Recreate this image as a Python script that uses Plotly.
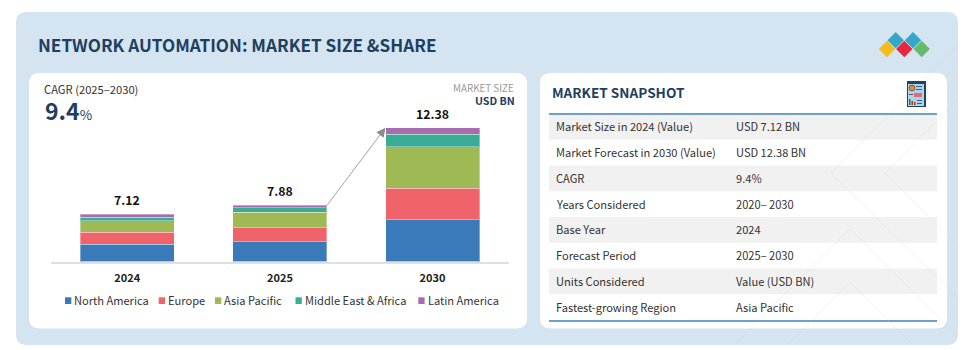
import plotly.graph_objects as go

W, H = 969, 350
FONT = "Noto Sans CJK KR"
NAVY = "#1e3f60"

years = ["2024", "2025", "2030"]
totals = [7.12, 7.88, 12.38]
# Segment sizes as drawn in the picture (the bars are not to scale with the totals)
north_america = [1.58, 1.82, 3.85]
europe = [1.12, 1.30, 2.95]
asia_pacific = [1.08, 1.43, 3.84]
middle_east_africa = [0.34, 0.43, 1.15]
latin_america = [0.25, 0.25, 0.59]

series_names = ["North America", "Europe", "Asia Pacific", "Middle East & Africa", "Latin America"]
series_colors = ["#3a7ab8", "#f0636b", "#9fba54", "#3aab95", "#a66cae"]
legend_x = [65, 158.7, 215, 295.5, 418.3]

snapshot_labels = ["Market Size in 2024 (Value)", "Market Forecast in 2030 (Value)", "CAGR", "Years Considered",
                   "Base Year", "Forecast Period", "Units Considered", "Fastest-growing Region"]
snapshot_values = ["USD 7.12 BN", "USD 12.38 BN", "9.4%", "2020– 2030", "2024", "2025– 2030", "Value (USD BN)", "Asia Pacific"]


def px(x):
    return x / W


def py(y):
    return 1 - y / H


def round_rect(x0, y0, x1, y1, r, color):
    p0x, p1x, p0y, p1y = px(x0), px(x1), py(y0), py(y1)
    rx, ry = r / W, r / H
    path = (f"M {p0x+rx} {p0y} L {p1x-rx} {p0y} Q {p1x} {p0y} {p1x} {p0y-ry} L {p1x} {p1y+ry} "
            f"Q {p1x} {p1y} {p1x-rx} {p1y} L {p0x+rx} {p1y} Q {p0x} {p1y} {p0x} {p1y+ry} "
            f"L {p0x} {p0y-ry} Q {p0x} {p0y} {p0x+rx} {p0y} Z")
    return dict(type="path", xref="paper", yref="paper", path=path, fillcolor=color, line_width=0, layer="below")


def rect(x0, y0, x1, y1, color, layer="below"):
    return dict(type="rect", xref="paper", yref="paper", x0=px(x0), x1=px(x1), y0=py(y0), y1=py(y1),
                fillcolor=color, line_width=0, layer=layer)


def seg(x0, y0, x1, y1, color, width=1, layer="below"):
    return dict(type="line", xref="paper", yref="paper", x0=px(x0), x1=px(x1), y0=py(y0), y1=py(y1),
                line=dict(color=color, width=width), layer=layer)


def diamond(cx, cy, r, color):
    path = f"M {px(cx-r)} {py(cy)} L {px(cx)} {py(cy-r)} L {px(cx+r)} {py(cy)} L {px(cx)} {py(cy+r)} Z"
    return dict(type="path", xref="paper", yref="paper", path=path, fillcolor=color, line_width=0, layer="below")


def label(x, y, text, size=12, color="#333333", anchor="left", weight=None):
    f = dict(family=FONT, size=size, color=color)
    if weight:
        f["weight"] = weight
    return dict(xref="paper", yref="paper", x=px(x), y=py(y), text=text, showarrow=False,
                xanchor=anchor, yanchor="middle", font=f, borderpad=0, borderwidth=0)


fig = go.Figure()
for name, vals, color in zip(series_names, [north_america, europe, asia_pacific, middle_east_africa, latin_america], series_colors):
    fig.add_trace(go.Bar(name=name, x=years, y=vals, marker=dict(color=color, line=dict(color="rgba(255,255,255,0.35)", width=1)),
                         showlegend=False, hoverinfo="x+y+name"))

shapes = [round_rect(16, 12, 958, 345, 11, "#d5e4f1"),
          round_rect(29, 73, 527, 328.5, 11, "#ffffff"),
          round_rect(540, 73, 947, 328.5, 11, "#ffffff")]

# snapshot rows
ROW = 25.75
for i in range(len(snapshot_labels)):
    if i % 2 == 0:
        shapes.append(rect(549, 114 + i * ROW, 937, 114 + (i + 1) * ROW, "#f1f1f1"))
shapes.append(rect(549, 113, 937, 115, "#6f9fcd"))
shapes.append(rect(549, 320, 937, 322, "#6f9fcd"))

# faint background lattice
LAT = "rgba(190,200,210,0.22)"
for a in [(958, 45, 831, 173), (831, 173, 958, 298), (958, 99, 885, 173), (885, 173, 958, 247),
          (850, 229, 958, 337), (850, 229, 734, 345), (850, 282, 787, 345), (850, 282, 913, 345)]:
    shapes.append(seg(*a, LAT, 1))

# logo
for cx, cy, c in [(895.7, 40.3, "#36a6c9"), (913, 40.3, "#36a6c9"), (887, 49, "#f4bd1d"), (904.3, 49, "#e8273f"), (921.7, 49, "#66bb6a")]:
    shapes.append(diamond(cx, cy, 8.2, c))

# snapshot icon
shapes += [rect(907, 81, 926, 107, "#1f4566"), rect(908, 84, 924, 106, "#a9d6ee"),
           dict(type="circle", xref="paper", yref="paper", x0=px(909), x1=px(915), y0=py(85), y1=py(91),
                fillcolor="#e0873a", line=dict(color="#3a3a3a", width=0.6), layer="below"),
           rect(916, 86, 922, 87, "#557"), rect(916, 89, 922, 90, "#557"),
           rect(909, 94, 913, 95, "#557"), rect(914, 93, 922, 97, "#e8686b"),
           rect(909, 99, 910.5, 105, "#8a4a20"), rect(911.5, 101, 913, 105, "#8a4a20"), rect(914, 102, 915.5, 105, "#8a4a20"),
           rect(917, 100, 922, 101, "#557"), rect(917, 103, 922, 104, "#557")]

annotations = [
    label(38.3, 44.5, "NETWORK AUTOMATION: MARKET SIZE &SHARE", 17.15, NAVY, weight=700),
    label(43.5, 89, "CAGR (2025–2030)", 11.2, "#333333"),
    label(44.5, 110, "<b>9.4</b><span style='font-size:13.5px'>%</span>", 23, NAVY),
    label(513.5, 88, "MARKET SIZE", 9.8, "#999999", "right"),
    label(514.5, 100.5, "USD BN", 10.7, NAVY, "right", 700),
    label(551.5, 92.5, "MARKET SNAPSHOT", 13.6, NAVY, weight=700),
]
for i, (a, b) in enumerate(zip(snapshot_labels, snapshot_values)):
    yc = 113.5 + (i + 0.5) * ROW
    annotations.append(label(556, yc, a, 11.1))
    annotations.append(label(736, yc, b, 11.1))

# bar totals
stack = [sum(v) for v in zip(north_america, europe, asia_pacific, middle_east_africa, latin_america)]
for i, (t, top) in enumerate(zip(totals, stack)):
    annotations.append(dict(xref="x", yref="y", x=i, y=top, text=f"{t:.2f}", showarrow=False, yanchor="bottom", yshift=3,
                            font=dict(family=FONT, size=12.3, color="#111111", weight=700)))

# growth arrow
annotations.append(dict(xref="paper", yref="paper", x=px(385.5), y=py(127.7), ax=-59.5, ay=79, axref="pixel", ayref="pixel",
                        text="", showarrow=True, arrowhead=2, arrowsize=2.3, arrowwidth=0.8, arrowcolor="#8c8c8c", standoff=0))

# legend
for x, name, color in zip(legend_x, series_names, series_colors):
    shapes.append(rect(x, 297.3, x + 6.3, 304, color))
    annotations.append(label(x + 9.2, 300, name, 11.1))

fig.update_layout(
    template="none",
    width=W, height=H, autosize=False,
    margin=dict(l=0, r=0, t=0, b=0, pad=0),
    paper_bgcolor="#ffffff", plot_bgcolor="rgba(0,0,0,0)",
    barmode="stack", bargap=0.384,
    showlegend=False,
    xaxis=dict(domain=[px(51), px(508.8)], type="category", range=[-0.5, 2.5], automargin=False, showgrid=False, showline=True,
               linecolor="#e0e0e0", linewidth=1.5, zeroline=False,
               ticks="outside", ticklen=6, tickcolor="rgba(0,0,0,0)",
               tickfont=dict(family=FONT, size=11, color="#222222", weight=700)),
    yaxis=dict(domain=[py(261.5), py(100)], range=[0, 161.5 / 10.8], visible=False, automargin=False),
    shapes=shapes, annotations=annotations,
)
fig.write_html("out.html", config={"displayModeBar": False},
               post_script="document.body.style.margin='0';document.body.style.overflow='hidden';")
